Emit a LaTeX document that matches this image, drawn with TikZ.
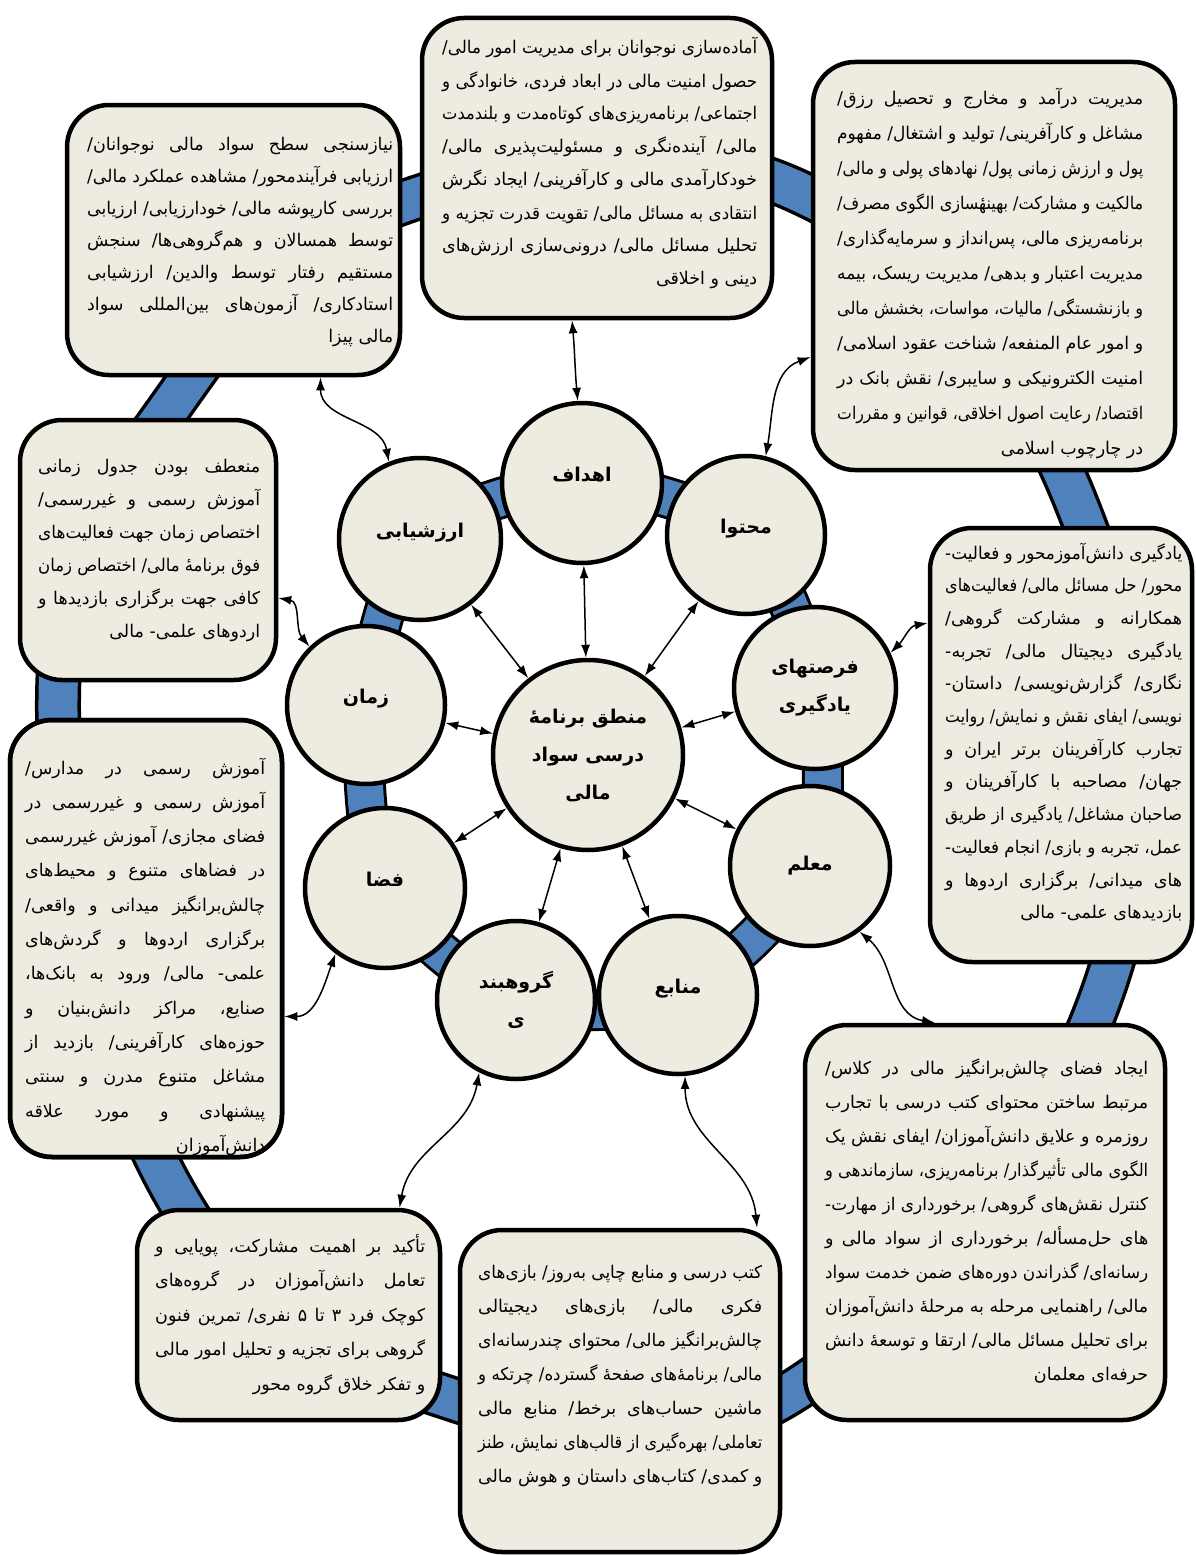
\documentclass[tikz,border=0pt]{standalone}
\usepackage{fontspec}
\usepackage{graphicx}
\usetikzlibrary{arrows.meta}
\TeXXeTstate=1
\newfontfamily\fa[Script=Arabic]{DejaVu Sans}
\definecolor{bg}{HTML}{EEECE1}
\definecolor{ringblue}{HTML}{4F81BD}
\newlength\lw
\newlength\nw
\newbox\lnbox
\newcommand\rl[1]{\beginR#1\endR}
\newcommand\jl[1]{\setbox\lnbox=\hbox{\beginR#1\endR}\nw=\wd\lnbox\relax
  \ifdim\nw>\lw\relax
    \pgfmathsetmacro\rr{\lw/\nw}\hbox{\scalebox{\rr}[1]{\box\lnbox}}%
  \else\hbox to\lw{\beginR#1\endR}\fi}
\newcommand\lastl[1]{\setbox\lnbox=\hbox{\beginR#1\endR}\nw=\wd\lnbox\relax
  \ifdim\nw>\lw\relax
    \pgfmathsetmacro\rr{\lw/\nw}\hbox{\scalebox{\rr}[1]{\box\lnbox}}%
  \else\hbox to\lw{\hfill\box\lnbox}\fi}
\newcommand\tb[3]{\vtop{\lw=#1pt\relax\hsize=\lw\baselineskip=#2pt\lineskiplimit=-100pt\lineskip=0pt\relax #3}}
\begin{document}
\begin{tikzpicture}[x=1pt,y=-1pt,
  box/.style={draw=black, line width=4.5pt, fill=bg, rounded corners=42pt, inner sep=0pt},
  circ/.style={circle, draw=black, line width=4.5pt, fill=bg, inner sep=0pt, font=\fa\bfseries\fontsize{19}{38}\selectfont, align=center},
  up/.style={text depth=17pt},
  txt/.style={inner sep=0pt, anchor=base west, font=\fa\fontsize{17.5}{33}\selectfont},
  arr/.style={{Latex[length=13pt,width=9pt]}-{Latex[length=13pt,width=9pt]}, line width=1.5pt}]
\path[use as bounding box, fill=white] (0,0) rectangle (1195,1555);
% outer ring
\draw[line width=46pt, black] plot[smooth cycle, tension=0.7] coordinates {(410,200) (795,190) (1075,500) (1110,970) (795,1390) (440,1395) (170,1185) (58,700) (175,400)};
\draw[line width=39pt, ringblue] plot[smooth cycle, tension=0.7] coordinates {(410,200) (795,190) (1075,500) (1110,970) (795,1390) (440,1395) (170,1185) (58,700) (175,400)};
% circle centres
\coordinate (pArz) at (420,539);
\coordinate (pHdf) at (582,483);
\coordinate (pMht) at (746,535);
\coordinate (pFrs) at (815,688);
\coordinate (pMlm) at (810,866);
\coordinate (pMnb) at (678,995);
\coordinate (pGrh) at (516,1000);
\coordinate (pFza) at (385,888);
\coordinate (pZmn) at (366,705);
\draw[line width=42pt, black] plot[smooth cycle, tension=0.5] coordinates {(pArz) (pHdf) (pMht) (pFrs) (pMlm) (pMnb) (pGrh) (pFza) (pZmn)};
\draw[line width=36pt, ringblue] plot[smooth cycle, tension=0.5] coordinates {(pArz) (pHdf) (pMht) (pFrs) (pMlm) (pMnb) (pGrh) (pFza) (pZmn)};
% boxes
\node[box, minimum width=350pt, minimum height=300pt] (b1) at (597,168) {};
\node[box, minimum width=362pt, minimum height=408pt] (b2) at (994,266) {};
\node[box, minimum width=333pt, minimum height=270pt] (b3) at (233.5,240) {};
\node[box, minimum width=256pt, minimum height=260pt] (b4) at (148,550) {};
\node[box, minimum width=262pt, minimum height=434pt] (b5) at (1061,745) {};
\node[box, minimum width=272pt, minimum height=437pt] (b6) at (146,938.5) {};
\node[box, minimum width=360pt, minimum height=395pt] (b7) at (985,1222.5) {};
\node[box, minimum width=320pt, minimum height=322pt] (b8) at (620,1391) {};
\node[box, minimum width=303pt, minimum height=210pt] (b9) at (288.5,1315) {};
% box texts
\node[txt] (t1) at (442,54) {\tb{315}{33}{%
\jl{آماده‌سازی نوجوانان برای مدیریت امور مالی/}
\jl{حصول امنیت مالی در ابعاد فردی، خانوادگی و}
\jl{اجتماعی/ برنامه‌ریزی‌های کوتاه‌مدت و بلندمدت}
\jl{مالی/ آینده‌نگری و مسئولیت‌پذیری مالی/}
\jl{خودکارآمدی مالی و کارآفرینی/ ایجاد نگرش}
\jl{انتقادی به مسائل مالی/ تقویت قدرت تجزیه و}
\jl{تحلیل مسائل مالی/ درونی‌سازی ارزش‌های}
\lastl{دینی و اخلاقی}}};
\node[txt] (t2) at (837,104) {\tb{306}{35}{%
\jl{مدیریت درآمد و مخارج و تحصیل رزق/}
\jl{مشاغل و کارآفرینی/ تولید و اشتغال/ مفهوم}
\jl{پول و ارزش زمانی پول/ نهادهای پولی و مالی/}
\jl{مالکیت و مشارکت/ بهینهٔسازی الگوی مصرف/}
\jl{برنامه‌ریزی مالی، پس‌انداز و سرمایه‌گذاری/}
\jl{مدیریت اعتبار و بدهی/ مدیریت ریسک، بیمه}
\jl{و بازنشستگی/ مالیات، مواسات، بخشش مالی}
\jl{و امور عام المنفعه/ شناخت عقود اسلامی/}
\jl{امنیت الکترونیکی و سایبری/ نقش بانک در}
\jl{اقتصاد/ رعایت اصول اخلاقی، قوانین و مقررات}
\lastl{در چارچوب اسلامی}}};
\node[txt] (t3) at (87,150) {\tb{306}{32}{%
\jl{نیازسنجی سطح سواد مالی نوجوانان/}
\jl{ارزیابی فرآیندمحور/ مشاهده عملکرد مالی/}
\jl{بررسی کارپوشه مالی/ خودارزیابی/ ارزیابی}
\jl{توسط همسالان و هم‌گروهی‌ها/ سنجش}
\jl{مستقیم رفتار توسط والدین/ ارزشیابی}
\jl{استادکاری/ آزمون‌های بین‌المللی سواد}
\lastl{مالی پیزا}}};
\node[txt] (t4) at (38,472) {\tb{222}{33}{%
\jl{منعطف بودن جدول زمانی}
\jl{آموزش رسمی و غیررسمی/}
\jl{اختصاص زمان جهت فعالیت‌های}
\jl{فوق برنامهٔ مالی/ اختصاص زمان}
\jl{کافی جهت برگزاری بازدیدها و}
\lastl{اردوهای علمی- مالی}}};
\node[txt] (t5) at (945,559) {\tb{237}{32.7}{%
\jl{یادگیری دانش‌آموزمحور و فعالیت-}
\jl{محور/ حل مسائل مالی/ فعالیت‌های}
\jl{همکارانه و مشارکت گروهی/}
\jl{یادگیری دیجیتال مالی/ تجربه-}
\jl{نگاری/ گزارش‌نویسی/ داستان-}
\jl{نویسی/ ایفای نقش و نمایش/ روایت}
\jl{تجارب کارآفرینان برتر ایران و}
\jl{جهان/ مصاحبه با کارآفرینان و}
\jl{صاحبان مشاغل/ یادگیری از طریق}
\jl{عمل، تجربه و بازی/ انجام فعالیت-}
\jl{های میدانی/ برگزاری اردوها و}
\lastl{بازدیدهای علمی- مالی}}};
\node[txt] (t6) at (25,774) {\tb{240}{34.3}{%
\jl{آموزش رسمی در مدارس/}
\jl{آموزش رسمی و غیررسمی در}
\jl{فضای مجازی/ آموزش غیررسمی}
\jl{در فضاهای متنوع و محیط‌های}
\jl{چالش‌برانگیز میدانی و واقعی/}
\jl{برگزاری اردوها و گردش‌های}
\jl{علمی- مالی/ ورود به بانک‌ها،}
\jl{صنایع، مراکز دانش‌بنیان و}
\jl{حوزه‌های کارآفرینی/ بازدید از}
\jl{مشاغل متنوع مدرن و سنتی}
\jl{پیشنهادی و مورد علاقه}
\lastl{دانش‌آموزان}}};
\node[txt] (t7) at (825,1074) {\tb{323}{34}{%
\jl{ایجاد فضای چالش‌برانگیز مالی در کلاس/}
\jl{مرتبط ساختن محتوای کتب درسی با تجارب}
\jl{روزمره و علایق دانش‌آموزان/ ایفای نقش یک}
\jl{الگوی مالی تأثیرگذار/ برنامه‌ریزی، سازماندهی و}
\jl{کنترل نقش‌های گروهی/ برخورداری از مهارت-}
\jl{های حل‌مسأله/ برخورداری از سواد مالی و}
\jl{رسانه‌ای/ گذراندن دوره‌های ضمن خدمت سواد}
\jl{مالی/ راهنمایی مرحله به مرحلهٔ دانش‌آموزان}
\jl{برای تحلیل مسائل مالی/ ارتقا و توسعهٔ دانش}
\lastl{حرفه‌ای معلمان}}};
\node[txt] (t8) at (478,1278) {\tb{284}{34}{%
\jl{کتب درسی و منابع چاپی به‌روز/ بازی‌های}
\jl{فکری مالی/ بازی‌های دیجیتالی}
\jl{چالش‌برانگیز مالی/ محتوای چندرسانه‌ای}
\jl{مالی/ برنامهٔ‌های صفحهٔ گسترده/ چرتکه و}
\jl{ماشین حساب‌های برخط/ منابع مالی}
\jl{تعاملی/ بهره‌گیری از قالب‌های نمایش، طنز}
\lastl{و کمدی/ کتاب‌های داستان و هوش مالی}}};
\node[txt] (t9) at (155,1252) {\tb{270}{34.5}{%
\jl{تأکید بر اهمیت مشارکت، پویایی و}
\jl{تعامل دانش‌آموزان در گروه‌های}
\jl{کوچک فرد ۳ تا ۵ نفری/ تمرین فنون}
\jl{گروهی برای تجزیه و تحلیل امور مالی}
\lastl{و تفکر خلاق گروه محور}}};
\node[box, fill=none, minimum width=272pt, minimum height=437pt] (b6f) at (146,938.5) {};
% circles
\node[circ, minimum size=190pt] (c) at (588,755) {\rl{منطق برنامهٔ}\\\rl{درسی سواد}\\\rl{مالی}};
\node[circ, up, minimum size=162pt] (arz) at (pArz) {\rl{ارزشیابی}};
\node[circ, up, minimum size=160pt] (hdf) at (pHdf) {\rl{اهداف}};
\node[circ, up, minimum size=158pt] (mht) at (pMht) {\rl{محتوا}};
\node[circ, minimum size=162pt] (frs) at (pFrs) {\rl{فرصتهای}\\\rl{یادگیری}};
\node[circ, minimum size=160pt] (mlm) at (pMlm) {\rl{معلم}};
\node[circ, up, minimum size=158pt] (mnb) at (pMnb) {\rl{منابع}};
\node[circ, minimum size=158pt] (grh) at (pGrh) {\rl{گروهبند}\\\rl{ی}};
\node[circ, up, minimum size=160pt] (fza) at (pFza) {\rl{فضا}};
\node[circ, up, minimum size=158pt] (zmn) at (pZmn) {\rl{زمان}};
% straight arrows
\foreach \n in {arz,hdf,mht,frs,mlm,mnb,grh,fza,zmn} \draw[arr] (c) -- (\n);
% curved arrows
\draw[arr] ([xshift=87pt]b3.south) to[out=-90,in=100] (arz.112);
\draw[arr] ([xshift=-25pt]b1.south) to[out=-85,in=95] (hdf.93);
\draw[arr] ([yshift=-91pt]b2.west) to[out=200,in=80] (mht.76);
\draw[arr] ([yshift=122pt]b5.west) to[out=190,in=45] (frs.25);
\draw[arr] ([yshift=-48pt]b4.east) to[out=-10,in=130] (zmn.134);
\draw[arr] (mlm.-53) to[out=-40,in=170] ([xshift=-50pt]b7.north);
\draw[arr] (mnb.-85) to[out=-90,in=95] ([xshift=137pt]b8.north);
\draw[arr] (grh.-117) to[out=-100,in=80] ([xshift=111pt]b9.north);
\draw[arr] (fza.-127) to[out=-110,in=0] ([yshift=-78pt]b6.east);
\end{tikzpicture}
\end{document}
